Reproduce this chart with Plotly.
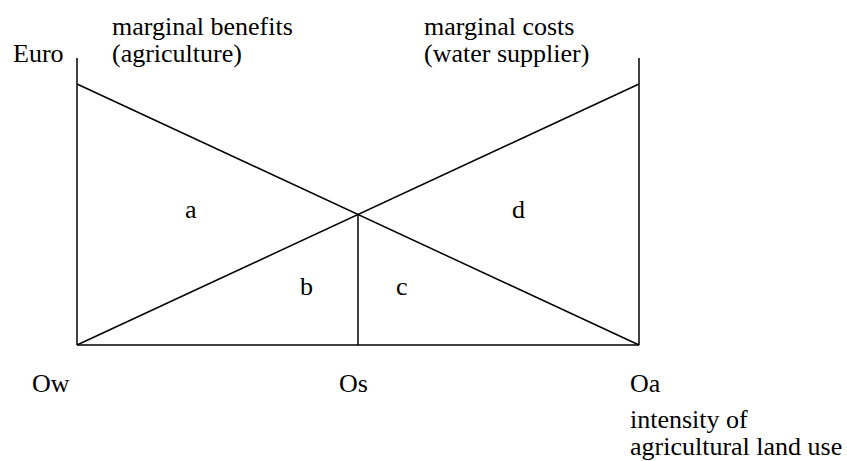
import numpy as np
import plotly.graph_objects as go

# quantity axis: Ow (0) .. Oa (1), Os in the middle
quantity = [0.0, 1.0]
marginal_benefits = [1.0, 0.0]   # agriculture, falls with intensity
marginal_costs = [0.0, 1.0]      # water supplier, rises with intensity
euro_axis_top = 1.1
os_position = 0.5

# labels: (text, x, y, xanchor)
point_labels = [("Ow", -0.046, -0.146, "center"),
                ("Os", 0.492, -0.146, "center"),
                ("Oa", 0.980, -0.146, "left")]
area_labels = [("a", 0.203, 0.521), ("b", 0.409, 0.226),
               ("c", 0.578, 0.226), ("d", 0.785, 0.521)]
heading_labels = [("Euro", -0.02, 1.115, "right"),
                  ("marginal benefits", 0.0587, 1.222, "left"),
                  ("(agriculture)", 0.0587, 1.115, "left"),
                  ("marginal costs", 0.614, 1.222, "left"),
                  ("(water supplier)", 0.614, 1.115, "left"),
                  ("intensity of", 0.980, -0.284, "left"),
                  ("agricultural land use", 0.980, -0.387, "left")]

FONT = dict(family="'Times New Roman', 'Liberation Serif', 'DejaVu Serif', serif",
            size=26, color="black")
LINE = dict(color="black", width=1.5)

fig = go.Figure()

def add_line(x, y):
    fig.add_trace(go.Scatter(x=x, y=y, mode="lines", line=LINE,
                             showlegend=False, hoverinfo="skip"))

# axes frame
add_line([quantity[0], quantity[0]], [0, euro_axis_top])
add_line([quantity[1], quantity[1]], [0, euro_axis_top])
add_line(quantity, [0, 0])

# curves
add_line(quantity, marginal_benefits)
add_line(quantity, marginal_costs)

# optimum Os
y_cross = float(np.interp(os_position, quantity, marginal_benefits))
add_line([os_position, os_position], [0, y_cross])

for text, x, y, anchor in point_labels + heading_labels:
    fig.add_annotation(x=x, y=y, text=text, showarrow=False,
                       xanchor=anchor, yanchor="middle", font=FONT)
for text, x, y in area_labels:
    fig.add_annotation(x=x, y=y, text=text, showarrow=False,
                       xanchor="center", yanchor="middle", font=FONT)

fig.update_xaxes(range=[-0.13701, 1.37011], visible=False)
fig.update_yaxes(range=[-0.4444, 1.3218], visible=False)
fig.update_layout(
    width=847, height=461,
    margin=dict(l=0, r=0, t=0, b=0),
    plot_bgcolor="white", paper_bgcolor="white",
    font=FONT,
)

# drop the default page margin so the figure sits at the window corner
fig.write_html("out.html", config={"displayModeBar": False},
               post_script="document.body.style.margin='0';")
